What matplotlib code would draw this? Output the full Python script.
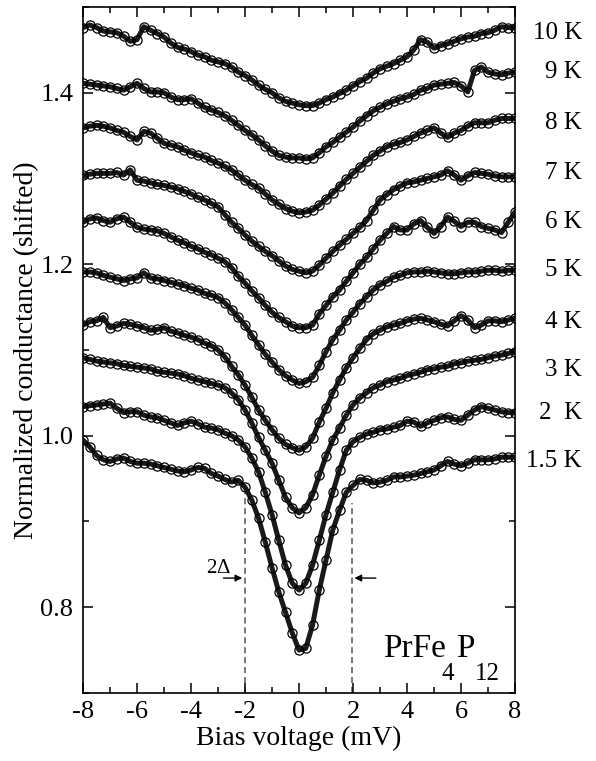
import numpy as np
import matplotlib
matplotlib.use("Agg")
import matplotlib.pyplot as plt
from matplotlib.ticker import MultipleLocator, FormatStrFormatter

plt.rcParams['font.family'] = ['Liberation Serif', 'DejaVu Serif']
plt.rcParams['mathtext.fontset'] = 'custom'
plt.rcParams['mathtext.rm'] = 'Liberation Serif'
plt.rcParams['mathtext.it'] = 'Liberation Serif:italic'
plt.rcParams['axes.unicode_minus'] = False

bias = np.linspace(-8, 8, 65)

temps = ["10 K", "9 K", "8 K", "7 K", "6 K", "5 K", "4 K", "3 K", "2  K", "1.5 K"]
label_y = [1.470, 1.424, 1.365, 1.306, 1.249, 1.193, 1.133, 1.077, 1.027, 0.971]

g10 = [1.476, 1.479, 1.476, 1.472, 1.471, 1.470, 1.466, 1.460, 1.462, 1.477,
       1.473, 1.469, 1.465, 1.458, 1.453, 1.451, 1.448, 1.444, 1.442, 1.438,
       1.436, 1.434, 1.430, 1.424, 1.420, 1.415, 1.409, 1.404, 1.400, 1.394,
       1.390, 1.388, 1.386, 1.385, 1.385, 1.388, 1.392, 1.395, 1.399, 1.403,
       1.408, 1.413, 1.417, 1.423, 1.428, 1.431, 1.434, 1.438, 1.442, 1.450,
       1.462, 1.459, 1.452, 1.455, 1.457, 1.460, 1.463, 1.465, 1.466, 1.469,
       1.470, 1.473, 1.477, 1.476, 1.476]
g9 = [1.411, 1.410, 1.409, 1.408, 1.407, 1.405, 1.403, 1.407, 1.411, 1.405,
      1.401, 1.401, 1.400, 1.395, 1.392, 1.392, 1.393, 1.388, 1.383, 1.380,
      1.377, 1.373, 1.368, 1.362, 1.356, 1.351, 1.345, 1.338, 1.332, 1.327,
      1.325, 1.324, 1.324, 1.323, 1.324, 1.330, 1.337, 1.342, 1.348, 1.354,
      1.360, 1.367, 1.373, 1.379, 1.383, 1.387, 1.390, 1.393, 1.395, 1.398,
      1.403, 1.405, 1.409, 1.410, 1.411, 1.412, 1.408, 1.401, 1.426, 1.430,
      1.424, 1.422, 1.421, 1.423, 1.424]
g8 = [1.359, 1.361, 1.362, 1.361, 1.359, 1.356, 1.354, 1.349, 1.345, 1.355,
      1.353, 1.347, 1.341, 1.339, 1.337, 1.333, 1.330, 1.327, 1.325, 1.321,
      1.318, 1.314, 1.310, 1.304, 1.298, 1.293, 1.289, 1.282, 1.275, 1.270,
      1.265, 1.262, 1.260, 1.261, 1.263, 1.269, 1.276, 1.283, 1.291, 1.299,
      1.306, 1.313, 1.320, 1.327, 1.332, 1.337, 1.340, 1.342, 1.345, 1.349,
      1.353, 1.356, 1.359, 1.353, 1.348, 1.353, 1.356, 1.361, 1.365, 1.365,
      1.365, 1.368, 1.370, 1.370, 1.370]
g7 = [1.304, 1.305, 1.306, 1.306, 1.306, 1.307, 1.304, 1.310, 1.298, 1.297,
      1.295, 1.293, 1.292, 1.290, 1.288, 1.285, 1.282, 1.278, 1.275, 1.271,
      1.267, 1.258, 1.249, 1.242, 1.234, 1.227, 1.221, 1.215, 1.210, 1.204,
      1.198, 1.194, 1.192, 1.190, 1.192, 1.199, 1.207, 1.215, 1.222, 1.229,
      1.236, 1.243, 1.251, 1.263, 1.275, 1.281, 1.287, 1.291, 1.295, 1.296,
      1.298, 1.300, 1.302, 1.304, 1.309, 1.304, 1.298, 1.303, 1.307, 1.306,
      1.305, 1.303, 1.302, 1.302, 1.302]
g6 = [1.249, 1.253, 1.254, 1.251, 1.249, 1.253, 1.255, 1.249, 1.243, 1.241,
      1.240, 1.239, 1.236, 1.232, 1.228, 1.225, 1.221, 1.218, 1.214, 1.211,
      1.207, 1.203, 1.196, 1.186, 1.178, 1.169, 1.161, 1.152, 1.144, 1.138,
      1.133, 1.128, 1.126, 1.126, 1.129, 1.142, 1.152, 1.162, 1.170, 1.180,
      1.190, 1.200, 1.208, 1.218, 1.228, 1.236, 1.244, 1.240, 1.240, 1.247,
      1.251, 1.243, 1.236, 1.244, 1.255, 1.250, 1.244, 1.249, 1.249, 1.244,
      1.242, 1.240, 1.237, 1.249, 1.261]
g5 = [1.191, 1.191, 1.190, 1.187, 1.185, 1.183, 1.181, 1.183, 1.184, 1.190,
      1.184, 1.183, 1.181, 1.179, 1.177, 1.175, 1.172, 1.170, 1.166, 1.164,
      1.161, 1.155, 1.147, 1.138, 1.129, 1.117, 1.106, 1.095, 1.086, 1.077,
      1.070, 1.065, 1.061, 1.063, 1.068, 1.082, 1.098, 1.112, 1.123, 1.135,
      1.144, 1.154, 1.162, 1.170, 1.176, 1.180, 1.185, 1.187, 1.190, 1.191,
      1.191, 1.192, 1.191, 1.190, 1.189, 1.189, 1.190, 1.191, 1.191, 1.192,
      1.193, 1.193, 1.192, 1.193, 1.193]
g4 = [1.129, 1.133, 1.134, 1.138, 1.126, 1.128, 1.131, 1.130, 1.128, 1.126,
      1.123, 1.124, 1.126, 1.122, 1.120, 1.117, 1.115, 1.112, 1.108, 1.105,
      1.100, 1.092, 1.081, 1.071, 1.059, 1.045, 1.030, 1.018, 1.007, 0.997,
      0.990, 0.986, 0.983, 0.987, 0.997, 1.016, 1.032, 1.050, 1.065, 1.079,
      1.091, 1.102, 1.112, 1.119, 1.123, 1.127, 1.129, 1.131, 1.134, 1.136,
      1.137, 1.135, 1.133, 1.130, 1.128, 1.134, 1.140, 1.135, 1.126, 1.129,
      1.134, 1.134, 1.133, 1.135, 1.137]
g3 = [1.091, 1.089, 1.087, 1.086, 1.085, 1.084, 1.082, 1.081, 1.080, 1.079,
      1.078, 1.075, 1.074, 1.073, 1.072, 1.070, 1.067, 1.065, 1.063, 1.061,
      1.059, 1.056, 1.050, 1.042, 1.030, 1.015, 0.998, 0.983, 0.968, 0.948,
      0.928, 0.916, 0.910, 0.916, 0.931, 0.954, 0.976, 0.995, 1.009, 1.024,
      1.036, 1.044, 1.050, 1.056, 1.059, 1.063, 1.065, 1.067, 1.070, 1.072,
      1.074, 1.077, 1.078, 1.080, 1.081, 1.084, 1.085, 1.087, 1.088, 1.089,
      1.091, 1.093, 1.094, 1.096, 1.098]
g2 = [1.034, 1.035, 1.036, 1.037, 1.038, 1.032, 1.027, 1.028, 1.028, 1.024,
      1.022, 1.021, 1.018, 1.015, 1.012, 1.015, 1.017, 1.014, 1.010, 1.009,
      1.007, 1.003, 1.000, 0.995, 0.987, 0.974, 0.958, 0.934, 0.908, 0.878,
      0.849, 0.828, 0.820, 0.828, 0.849, 0.878, 0.908, 0.934, 0.960, 0.983,
      0.993, 0.998, 1.002, 1.004, 1.007, 1.008, 1.010, 1.012, 1.017, 1.016,
      1.011, 1.015, 1.018, 1.021, 1.022, 1.019, 1.018, 1.024, 1.030, 1.034,
      1.032, 1.030, 1.028, 1.027, 1.027]
g15 = [0.995, 0.987, 0.977, 0.972, 0.970, 0.973, 0.974, 0.970, 0.968, 0.968,
       0.967, 0.965, 0.963, 0.961, 0.959, 0.958, 0.960, 0.963, 0.962, 0.956,
       0.953, 0.949, 0.946, 0.948, 0.940, 0.925, 0.904, 0.876, 0.846, 0.818,
       0.794, 0.770, 0.750, 0.752, 0.779, 0.820, 0.855, 0.890, 0.913, 0.934,
       0.942, 0.949, 0.948, 0.945, 0.946, 0.948, 0.952, 0.952, 0.953, 0.954,
       0.956, 0.958, 0.960, 0.965, 0.970, 0.967, 0.965, 0.968, 0.972, 0.972,
       0.972, 0.973, 0.975, 0.975, 0.975]

curves = [g10, g9, g8, g7, g6, g5, g4, g3, g2, g15]

gap_left, gap_right = -2.0, 1.95
gap_top_left, gap_top_right = 0.933, 0.922
arrow_y = 0.834

fig = plt.figure(figsize=(5.96, 7.61), dpi=100)
ax = fig.add_axes([0.1393, 0.0894, 0.7248, 0.9014])

for g in curves:
    ax.plot(bias, g, '-', color='#1a1a1a', lw=3.6, zorder=2, solid_capstyle='round')
    ax.plot(bias, g, 'o', ms=6.6, mfc='none', mec='black', mew=0.9, zorder=3)

ax.set_xlim(-8, 8)
ax.set_ylim(0.7, 1.5)
ax.xaxis.set_major_locator(MultipleLocator(2))
ax.xaxis.set_minor_locator(MultipleLocator(1))
ax.yaxis.set_major_locator(MultipleLocator(0.2))
ax.yaxis.set_minor_locator(MultipleLocator(0.1))
ax.yaxis.set_major_formatter(FormatStrFormatter('%.1f'))
ax.tick_params(which='both', direction='in', top=True, right=True, width=1.1, labelsize=19)
ax.tick_params(which='major', length=7)
ax.tick_params(which='minor', length=4.5)
ax.tick_params(axis='x', pad=6)
ax.tick_params(axis='y', pad=7)
for s in ax.spines.values():
    s.set_linewidth(1.2)

ax.set_xlabel('Bias voltage (mV)', fontsize=20, labelpad=2)
ax.set_ylabel('Normalized conductance (shifted)', fontsize=20, labelpad=1)

trans = ax.get_yaxis_transform()
for t, y in zip(temps, label_y):
    ax.text(1.155, y, t, transform=trans, ha='right', va='center', fontsize=18, clip_on=False)

ax.plot([gap_left, gap_left], [0.7, gap_top_left], ls=(0, (4, 2.5)), color='#555555', lw=1.1, zorder=1)
ax.plot([gap_right, gap_right], [0.7, gap_top_right], ls=(0, (4, 2.5)), color='#555555', lw=1.1, zorder=1)
ax.annotate('', xy=(gap_left, arrow_y), xytext=(-2.9, arrow_y),
            arrowprops=dict(arrowstyle='-|>', color='black', lw=1.0, mutation_scale=10))
ax.annotate('', xy=(gap_right, arrow_y), xytext=(2.95, arrow_y),
            arrowprops=dict(arrowstyle='-|>', color='black', lw=1.0, mutation_scale=10))
ax.text(-3.45, 0.840, r'2$\Delta$', ha='left', va='baseline', fontsize=15)

ax.text(3.11, 0.742, 'PrFe', ha='left', va='baseline', fontsize=24)
ax.text(5.28, 0.715, '4', ha='left', va='baseline', fontsize=18)
ax.text(5.80, 0.742, 'P', ha='left', va='baseline', fontsize=24)
ax.text(6.50, 0.715, '12', ha='left', va='baseline', fontsize=18)

fig.savefig('out.png', dpi=100)
